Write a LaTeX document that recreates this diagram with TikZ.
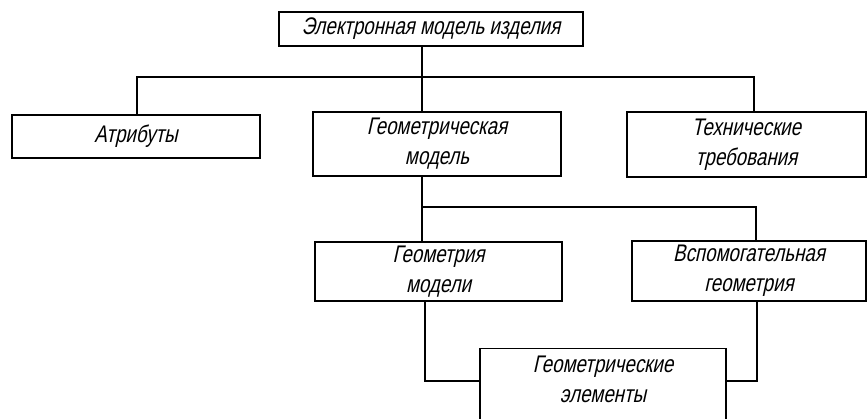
\documentclass[tikz,border=0pt]{standalone}
\usepackage{fontspec}
\newfontfamily\gost[FakeSlant=0.22,FakeStretch=0.78]{Liberation Sans}
\begin{document}
\begin{tikzpicture}[x=1pt,y=-1pt,
  box/.style={draw,line width=1.5pt,inner sep=0pt,align=center,
    font=\gost\fontsize{24}{30}\selectfont},
  wire/.style={line width=1.5pt}]
\useasboundingbox (0,0) rectangle (868,419);
\begin{scope}
\clip (0,0) rectangle (868,419);
\node[box,minimum width=304pt,minimum height=34pt] (top) at (431,29) {Электронная модель изделия};
\node[box,minimum width=248pt,minimum height=43pt] (attr) at (136,136.5) {Атрибуты};
\node[box,minimum width=248pt,minimum height=64pt] (geom) at (437,144) {Геометрическая\\модель};
\node[box,minimum width=239pt,minimum height=65pt] (tech) at (746.5,144.5) {Технические\\требования};
\node[box,minimum width=247pt,minimum height=59pt] (gmod) at (438.5,271.5) {Геометрия\\модели};
\node[box,minimum width=234pt,minimum height=60pt] (aux) at (749,271) {Вспомогательная\\геометрия};
\node[box,minimum width=246pt,minimum height=80pt,anchor=north] (elem) at (603,348)
  {Геометрические\\элементы\\[-10pt]\mbox{}};
\coordinate (ja) at (137,77);
\coordinate (jt) at (754,77);
\coordinate (jm) at (422,77);
\coordinate (jb) at (756,207);
\coordinate (jl) at (425,381);
\coordinate (jr) at (757,381);
\draw[wire] (ja |- attr.north) -- (ja) -- (jt) -- (jt |- tech.north);
\draw[wire] (jm |- top.south) -- (jm |- geom.north);
\draw[wire] (jm |- geom.south) -- (jm |- gmod.north);
\draw[wire] (jm |- jb) -- (jb) -- (jb |- aux.north);
\draw[wire] (jl |- gmod.south) -- (jl) -- (jl -| elem.west);
\draw[wire] (jr |- aux.south) -- (jr) -- (jr -| elem.east);
\end{scope}
\end{tikzpicture}
\end{document}
